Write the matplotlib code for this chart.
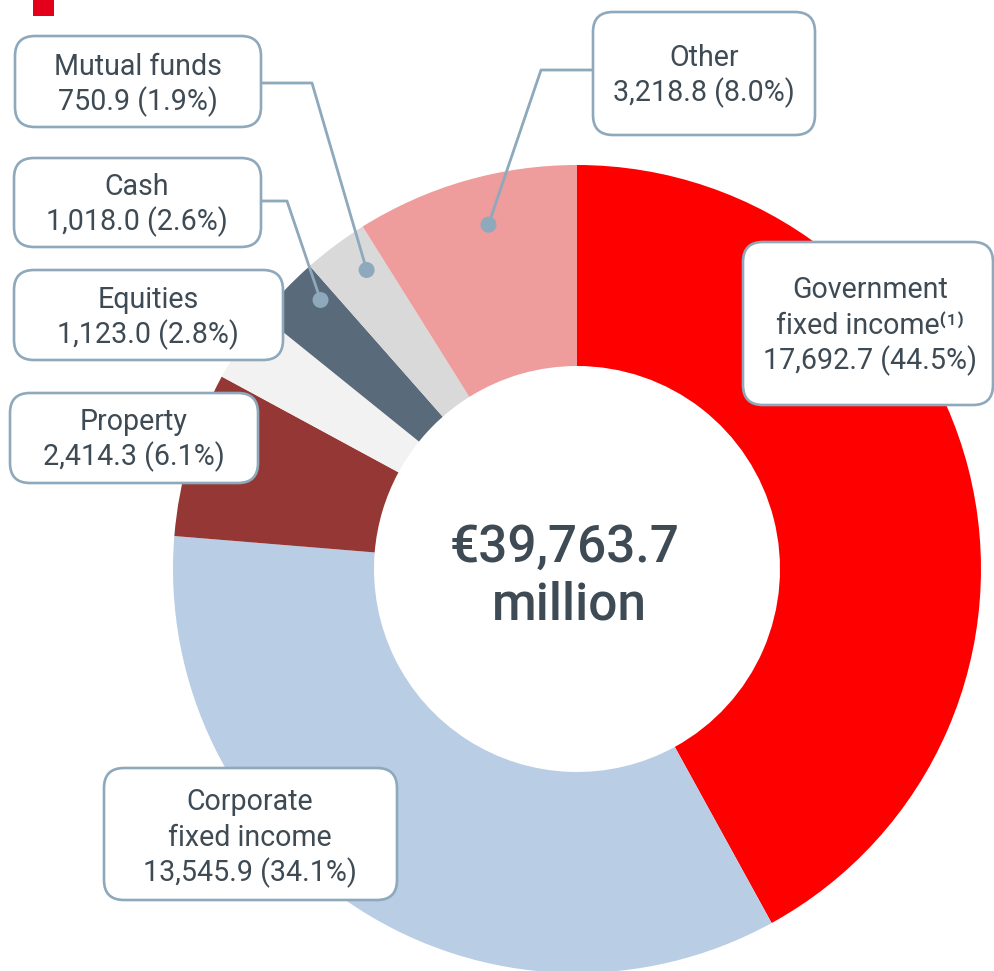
import matplotlib
matplotlib.use('Agg')
import matplotlib.pyplot as plt
from matplotlib.patches import FancyBboxPatch, Circle, Rectangle
import numpy as np

# ---------------- data ----------------
categories = ['Government fixed income', 'Corporate fixed income', 'Property',
              'Equities', 'Cash', 'Mutual funds', 'Other']
label_names = [['Government', 'fixed income\u207d\u00b9\u207e'], ['Corporate', 'fixed income'],
               ['Property'], ['Equities'], ['Cash'], ['Mutual funds'], ['Other']]
amounts = [17692.7, 13545.9, 2414.3, 1123.0, 1018.0, 750.9, 3218.8]
percents = [44.5, 34.1, 6.1, 2.8, 2.6, 1.9, 8.0]
# slice sizes (%) as drawn in the reference picture
drawn_share = [42.0, 34.3, 6.6, 2.9, 2.7, 2.6, 8.9]
total_lines = ['\u20ac39,763.7', 'million']
colors = ['#FF0000', '#B9CDE5', '#953735', '#F2F2F2', '#596A7A', '#D9D9D9', '#EE9C9C']

# ---------------- style ----------------
plt.rcParams['font.family'] = ['Roboto', 'DejaVu Sans']
TXT = '#3E4A54'
EDGE = '#8EA8BC'

W, H = 995, 971
fig = plt.figure(figsize=(W / 100, H / 100), dpi=100)
ax = fig.add_axes([0, 0, 1, 1])

cx, cy = 577, H - 569
R = 404
wedges, _ = ax.pie(drawn_share, colors=colors, startangle=90, counterclock=False,
                   radius=R, center=(cx, cy),
                   wedgeprops=dict(width=201, linewidth=0))
ax.set_xlim(0, W)
ax.set_ylim(0, H)
ax.set_aspect('equal')
ax.axis('off')

# small red marker top-left
ax.add_patch(Rectangle((33, H - 16), 21, 20, color='#E2001A', lw=0, zorder=5))

# centre text
ax.text(565, H - 548, total_lines[0], ha='center', va='center', fontsize=37,
        fontweight='medium', color=TXT, zorder=6)
ax.text(569, H - 605, total_lines[1], ha='center', va='center', fontsize=37,
        fontweight='medium', color=TXT, zorder=6)

# label boxes: left, top, right, bottom, first baseline, text centre x
boxes = [
    (743, 242, 993, 405, 298, 870),
    (104, 768, 397, 900, 810, 250),
    (10, 393, 258, 483, 430, 134),
    (14, 270, 283, 360, 308, 148),
    (14, 158, 261, 247, 195, 137),
    (15, 36, 261, 127, 75, 138),
    (593, 12, 815, 135, 66, 704),
]
step = 35.5
for i, (l, t, r, b, base, tx) in enumerate(boxes):
    ax.add_patch(FancyBboxPatch((l, H - b), r - l, b - t,
                                boxstyle='round,pad=0,rounding_size=20',
                                fc='white', ec=EDGE, lw=1.9, zorder=4))
    lines = label_names[i] + [f'{amounts[i]:,.1f} ({percents[i]:.1f}%)']
    for k, line in enumerate(lines):
        ax.text(tx, H - (base + k * step), line, ha='center', va='baseline',
                fontsize=20.6, color=TXT, zorder=6)

# connectors with dots: index, start, elbow, radius fraction, position within wedge
connectors = [
    (5, (261, 83), (312, 83), 0.905, 0.33),
    (4, (261, 201), (287, 201), 0.92, 0.23),
    (6, (593, 70), (541, 70), 0.88, 0.45),
]
for i, s, e, rf, f in connectors:
    w = wedges[i]
    ang = np.deg2rad(w.theta1 + f * (w.theta2 - w.theta1))
    dx = cx + rf * R * np.cos(ang)
    dy = cy + rf * R * np.sin(ang)
    ax.plot([s[0], e[0], dx], [H - s[1], H - e[1], dy], color=EDGE, lw=2.0,
            zorder=3, solid_capstyle='butt')
    ax.add_patch(Circle((dx, dy), 8, color=EDGE, lw=0, zorder=3.5))

fig.savefig('out.png', dpi=100)
